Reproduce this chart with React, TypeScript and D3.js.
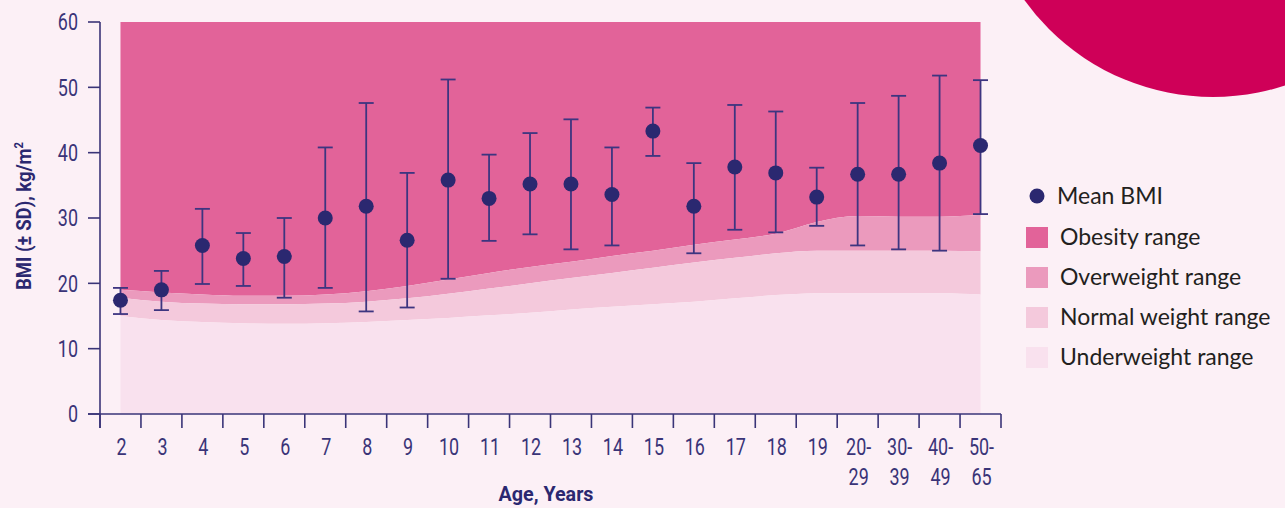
import React from 'react'
import * as d3 from 'd3'

const ages = ['2', '3', '4', '5', '6', '7', '8', '9', '10', '11', '12', '13', '14', '15', '16', '17', '18', '19', '20-29', '30-39', '40-49', '50-65']
const meanBmi = [17.4, 19.0, 25.8, 23.8, 24.1, 30.0, 31.8, 26.6, 35.8, 33.0, 35.2, 35.2, 33.6, 43.3, 31.8, 37.8, 36.9, 33.2, 36.7, 36.7, 38.4, 41.1]
const sdHigh = [19.3, 21.9, 31.4, 27.7, 30.0, 40.8, 47.6, 36.9, 51.2, 39.7, 43.0, 45.1, 40.8, 46.9, 38.4, 47.3, 46.3, 37.7, 47.6, 48.7, 51.8, 51.1]
const sdLow = [15.3, 15.9, 19.9, 19.6, 17.8, 19.3, 15.7, 16.3, 20.7, 26.5, 27.5, 25.2, 25.8, 39.5, 24.6, 28.2, 27.8, 28.8, 25.8, 25.2, 25.0, 30.6]

// range boundaries per age group
const obesityFrom = [19.0, 18.6, 18.3, 18.1, 18.1, 18.3, 18.8, 19.6, 20.6, 21.6, 22.5, 23.3, 24.2, 25.0, 25.9, 26.7, 27.6, 29.4, 30.3, 30.2, 30.2, 30.5]
const overweightFrom = [17.8, 17.2, 16.9, 16.8, 16.8, 16.9, 17.2, 17.7, 18.4, 19.2, 20.0, 20.8, 21.6, 22.4, 23.2, 23.9, 24.6, 25.0, 25.0, 25.0, 25.0, 24.9]
const normalFrom = [15.0, 14.4, 14.1, 13.9, 13.8, 13.9, 14.1, 14.4, 14.7, 15.1, 15.5, 16.0, 16.4, 16.8, 17.2, 17.7, 18.2, 18.5, 18.5, 18.5, 18.5, 18.3]
const yTicks = [0, 10, 20, 30, 40, 50, 60]

const legendItems = [
  { label: 'Obesity range', color: '#e26399' },
  { label: 'Overweight range', color: '#eb9abd' },
  { label: 'Normal weight range', color: '#f4c9dc' },
  { label: 'Underweight range', color: '#f9e1ee' },
]

const navy = '#2b2870'
const axisCol = '#3a3478'
const axisFont = 'Roboto, sans-serif'
const squeeze = 0.78 // fake a condensed face

export default function App() {
  const width = 1285
  const height = 508
  const x = d3.scaleBand().domain(ages).range([100, 1001]).padding(0)
  const y = d3.scaleLinear().domain([0, 60]).range([414, 22])
  const cx = (i: number) => (x(ages[i]) as number) + x.bandwidth() / 2

  const band = (lo: (i: number) => number, hi: (i: number) => number) =>
    d3.area<number>()
      .x((_, i) => cx(i))
      .y0((_, i) => y(lo(i)))
      .y1((_, i) => y(hi(i)))
      .curve(d3.curveMonotoneX)(ages.map((_, i) => i)) as string

  const areas = [
    { d: band(i => obesityFrom[i], () => 60), fill: legendItems[0].color },
    { d: band(i => overweightFrom[i], i => obesityFrom[i]), fill: legendItems[1].color },
    { d: band(i => normalFrom[i], i => overweightFrom[i]), fill: legendItems[2].color },
    { d: band(() => 0, i => normalFrom[i]), fill: legendItems[3].color },
  ]

  const boundaries = ages.map(a => x(a) as number).concat([1001])

  return (
    <svg width={width} height={height} style={{ position: 'absolute', left: 0, top: 0, background: '#fcf0f6' }}>
      <rect width={width} height={height} fill="#fcf0f6" />
      <circle cx={1213} cy={-135} r={232} fill="#cf0058" />

      {areas.map((a, i) => <path key={i} d={a.d} fill={a.fill} />)}

      {/* y axis */}
      <line x1={100} x2={100} y1={y(60)} y2={428} stroke={axisCol} strokeWidth={1.6} />
      {yTicks.map(t => (
        <g key={t}>
          <line x1={88} x2={100} y1={y(t)} y2={y(t)} stroke={axisCol} strokeWidth={1.6} />
          <text transform={`translate(78,${y(t)}) scale(${squeeze},1)`} dy="0.36em" textAnchor="end" fontFamily={axisFont} fontSize={23} fill={axisCol}>{t}</text>
        </g>
      ))}
      <text transform={`translate(31,216) rotate(-90)`} textAnchor="middle" fontFamily={axisFont} fontWeight="bold" fontSize={20} fill={navy}
        textLength={148} lengthAdjust="spacingAndGlyphs">
        BMI (± SD), kg/m<tspan dy="-8" fontSize={12}>2</tspan>
      </text>

      {/* x axis */}
      <line x1={88} x2={1001} y1={414} y2={414} stroke={axisCol} strokeWidth={1.6} />
      {boundaries.map((bx, i) => (
        <line key={i} x1={bx} x2={bx} y1={414} y2={428} stroke={axisCol} strokeWidth={1.6} />
      ))}
      {ages.map((a, i) => {
        const parts = a.includes('-') ? [a.split('-')[0] + '-', a.split('-')[1]] : [a]
        return (
          <text key={a} transform={`translate(${cx(i) + 1},455) scale(${squeeze},1)`} textAnchor="middle" fontFamily={axisFont} fontSize={23} fill={axisCol}>
            {parts.map((p, j) => <tspan key={j} x={0} dy={j === 0 ? 0 : 30}>{p}</tspan>)}
          </text>
        )
      })}
      <text x={546} y={501} textAnchor="middle" fontFamily={axisFont} fontWeight="bold" fontSize={21} fill={navy}
        textLength={95} lengthAdjust="spacingAndGlyphs">Age, Years</text>

      {/* error bars and means */}
      {ages.map((a, i) => (
        <g key={a}>
          <line x1={cx(i)} x2={cx(i)} y1={y(sdLow[i])} y2={y(sdHigh[i])} stroke="#3d3580" strokeWidth={1.8} />
          <line x1={cx(i) - 7.5} x2={cx(i) + 7.5} y1={y(sdLow[i])} y2={y(sdLow[i])} stroke="#3d3580" strokeWidth={1.8} />
          <line x1={cx(i) - 7.5} x2={cx(i) + 7.5} y1={y(sdHigh[i])} y2={y(sdHigh[i])} stroke="#3d3580" strokeWidth={1.8} />
          <circle cx={cx(i)} cy={y(meanBmi[i])} r={7.5} fill={navy} />
        </g>
      ))}

      {/* legend */}
      <circle cx={1037} cy={196} r={7.5} fill={navy} />
      <text x={1057} y={204} fontFamily="Lato, sans-serif" fontSize={23} fill="#231f20">Mean BMI</text>
      {legendItems.map((it, i) => (
        <g key={it.label}>
          <rect x={1026} y={227 + i * 40} width={22} height={21} fill={it.color} />
          <text x={1060} y={245 + i * 40} fontFamily="Lato, sans-serif" fontSize={23} fill="#231f20">{it.label}</text>
        </g>
      ))}
    </svg>
  )
}
